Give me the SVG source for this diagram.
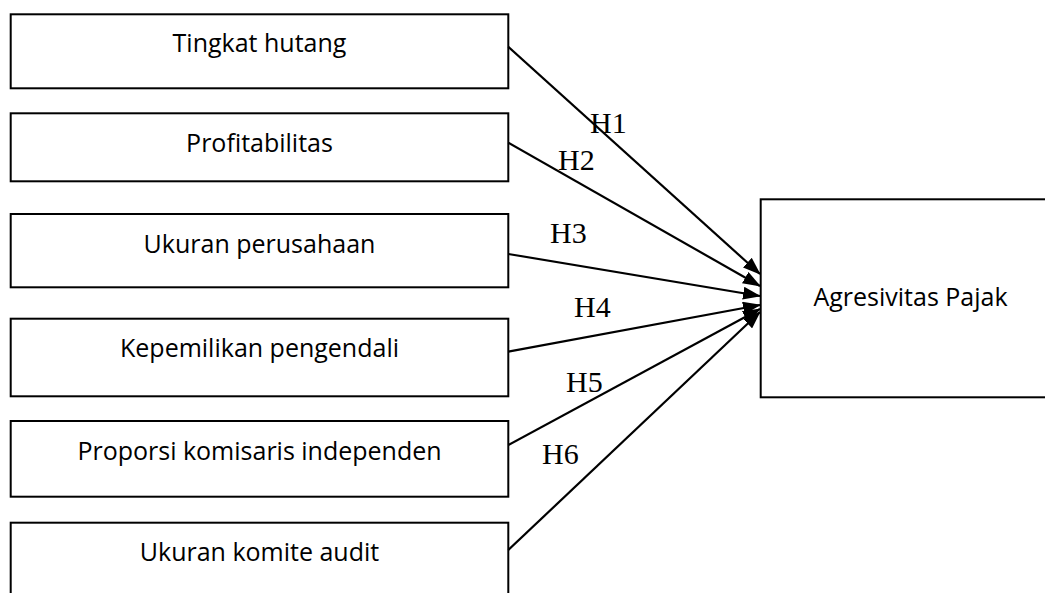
<svg xmlns="http://www.w3.org/2000/svg" width="1045" height="593" viewBox="0 0 1045 593">
<style>
.box{fill:#fff;stroke:#000;stroke-width:2}
.lbl{font-family:"Open Sans","Noto Sans","DejaVu Sans",sans-serif;font-size:25px;fill:#000;text-anchor:middle}
.h{font-family:"Liberation Serif","Times New Roman",serif;font-size:30px;fill:#000}
.conn{stroke:#000;stroke-width:2.2;fill:none;marker-end:url(#arr)}
</style>
<defs>
<marker id="arr" markerUnits="userSpaceOnUse" markerWidth="18" markerHeight="13" refX="17" refY="6.5" orient="auto" viewBox="0 0 18 13">
<path d="M0,0 L18,6.5 L0,13 z" fill="#000"/>
</marker>
</defs>
<rect width="1045" height="593" fill="#fff"/>
<g id="n1"><rect class="box" x="10.7" y="14.3" width="497.6" height="74"/><text class="lbl" x="259.5" y="52">Tingkat hutang</text></g>
<g id="n2"><rect class="box" x="10.7" y="113.3" width="497.6" height="68"/><text class="lbl" x="259.5" y="151.7">Profitabilitas</text></g>
<g id="n3"><rect class="box" x="10.7" y="214" width="497.6" height="73.3"/><text class="lbl" x="259.5" y="253.3">Ukuran perusahaan</text></g>
<g id="n4"><rect class="box" x="10.7" y="318.7" width="497.6" height="77.6"/><text class="lbl" x="259.5" y="356.7">Kepemilikan pengendali</text></g>
<g id="n5"><rect class="box" x="10.7" y="421" width="497.6" height="75.7"/><text class="lbl" x="259.5" y="460">Proporsi komisaris independen</text></g>
<g id="n6"><rect class="box" x="10.7" y="522.7" width="497.6" height="100"/><text class="lbl" x="259.5" y="560.7">Ukuran komite audit</text></g>
<g id="target"><rect class="box" x="760.7" y="199.3" width="300" height="198"/><text class="lbl" x="910.5" y="306">Agresivitas Pajak</text></g>
<g id="connectors">
<line class="conn" x1="508.3" y1="46.7" x2="760" y2="274"/>
<line class="conn" x1="508.3" y1="142.7" x2="760" y2="286"/>
<line class="conn" x1="508.3" y1="254" x2="760" y2="296"/>
<line class="conn" x1="508.3" y1="351.7" x2="760" y2="305"/>
<line class="conn" x1="508.3" y1="445" x2="760" y2="309"/>
<line class="conn" x1="508.3" y1="550" x2="760" y2="312"/>
<text class="h" x="590" y="133">H1</text>
<text class="h" x="558" y="170">H2</text>
<text class="h" x="550" y="243">H3</text>
<text class="h" x="574" y="317">H4</text>
<text class="h" x="566" y="392">H5</text>
<text class="h" x="542" y="464">H6</text>
</g>
</svg>
